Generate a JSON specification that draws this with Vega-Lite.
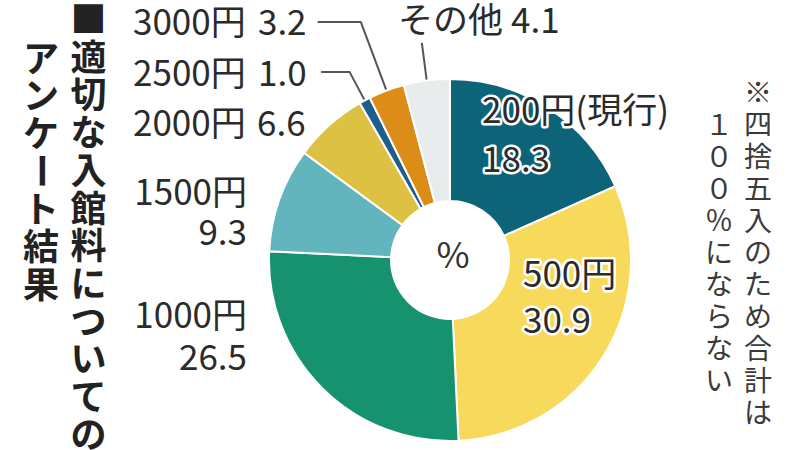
{
  "$schema": "https://vega.github.io/schema/vega-lite/v6.json",
  "width": 700,
  "height": 380,
  "autosize": {"type": "none"},
  "padding": {"left": 100, "top": 70, "right": 0, "bottom": 0},
  "background": "white",
  "config": {"view": {"stroke": null}, "text": {"font": "Noto Sans CJK JP", "fontSize": 35, "fill": "#2b2b2b"}},
  "data": {"values": [
    {"order": 1, "cat": "200円(現行)", "pct": 18.3},
    {"order": 2, "cat": "500円", "pct": 30.9},
    {"order": 3, "cat": "1000円", "pct": 26.5},
    {"order": 4, "cat": "1500円", "pct": 9.3},
    {"order": 5, "cat": "2000円", "pct": 6.6},
    {"order": 6, "cat": "2500円", "pct": 1.0},
    {"order": 7, "cat": "3000円", "pct": 3.2},
    {"order": 8, "cat": "その他", "pct": 4.1}
  ]},
  "layer": [
    {
      "encoding": {
        "theta": {"field": "pct", "type": "quantitative", "stack": true},
        "order": {"field": "order", "type": "quantitative"}
      },
      "layer": [
        {"mark": {"type": "arc", "innerRadius": 150, "outerRadius": 254, "padAngle": 3, "fill": "transparent", "stroke": "#555", "strokeWidth": 2},
         "encoding": {"strokeOpacity": {"condition": {"test": "datum.cat === '3000円'", "value": 1}, "value": 0}}},
        {"mark": {"type": "arc", "innerRadius": 150, "outerRadius": 213, "padAngle": 3, "fill": "transparent", "stroke": "#555", "strokeWidth": 2},
         "encoding": {"strokeOpacity": {"condition": {"test": "datum.cat === '2500円'", "value": 1}, "value": 0}}},
        {"mark": {"type": "arc", "innerRadius": 150, "outerRadius": 219, "padAngle": 3, "fill": "transparent", "stroke": "#555", "strokeWidth": 2},
         "encoding": {"strokeOpacity": {"condition": {"test": "datum.cat === 'その他'", "value": 1}, "value": 0}}},
        {"mark": {"type": "arc", "innerRadius": 59, "outerRadius": 181, "stroke": "white", "strokeWidth": 2},
         "encoding": {"color": {"field": "cat", "type": "nominal", "legend": null,
           "scale": {"domain": ["200円(現行)", "500円", "1000円", "1500円", "2000円", "2500円", "3000円", "その他"],
                     "range": ["#0d6478", "#f7da5c", "#17926f", "#62b4bd", "#dcc142", "#1e5d8c", "#dc8d17", "#e8ecec"]}}}},
        {"mark": {"type": "text", "radius": 246, "dx": -2.7, "dy": 0.7, "align": "right", "baseline": "alphabetic", "font": "DejaVu Sans Mono", "fontSize": 24, "fill": "#555"},
         "encoding": {"text": {"condition": {"test": "datum.cat === '3000円'", "value": "───"}, "value": ""}}},
        {"mark": {"type": "text", "radius": 206, "dx": -2.9, "dy": 2.0, "align": "right", "baseline": "alphabetic", "font": "DejaVu Sans Mono", "fontSize": 24, "fill": "#555"},
         "encoding": {"text": {"condition": {"test": "datum.cat === '2500円'", "value": "──"}, "value": ""}}},

        {"mark": {"type": "text", "radius": 132, "dx": -39.8, "dy": -26.3, "align": "left", "baseline": "alphabetic", "fill": "white", "stroke": "white", "strokeWidth": 5, "strokeJoin": "round"},
         "encoding": {"text": {"condition": {"test": "datum.cat === '200円(現行)'", "field": "cat", "type": "nominal"}, "value": ""}}},
        {"mark": {"type": "text", "radius": 91, "dx": -17.5, "dy": -11.7, "align": "left", "baseline": "alphabetic", "fill": "white", "stroke": "white", "strokeWidth": 5, "strokeJoin": "round"},
         "encoding": {"text": {"condition": {"test": "datum.cat === '200円(現行)'", "field": "pct", "type": "quantitative", "format": ".1f"}, "value": ""}}},
        {"mark": {"type": "text", "radius": 76, "dx": 8.3, "dy": -12.8, "align": "left", "baseline": "alphabetic", "fill": "white", "stroke": "white", "strokeWidth": 5, "strokeJoin": "round"},
         "encoding": {"text": {"condition": {"test": "datum.cat === '500円'", "field": "cat", "type": "nominal"}, "value": ""}}},
        {"mark": {"type": "text", "radius": 100, "dx": -12.2, "dy": 20.6, "align": "left", "baseline": "alphabetic", "fill": "white", "stroke": "white", "strokeWidth": 5, "strokeJoin": "round"},
         "encoding": {"text": {"condition": {"test": "datum.cat === '500円'", "field": "pct", "type": "quantitative", "format": ".1f"}, "value": ""}}},

        {"mark": {"type": "text", "radius": 132, "dx": -39.8, "dy": -26.3, "align": "left", "baseline": "alphabetic"},
         "encoding": {"text": {"condition": {"test": "datum.cat === '200円(現行)'", "field": "cat", "type": "nominal"}, "value": ""}}},
        {"mark": {"type": "text", "radius": 91, "dx": -17.5, "dy": -11.7, "align": "left", "baseline": "alphabetic"},
         "encoding": {"text": {"condition": {"test": "datum.cat === '200円(現行)'", "field": "pct", "type": "quantitative", "format": ".1f"}, "value": ""}}},
        {"mark": {"type": "text", "radius": 76, "dx": 8.3, "dy": -12.8, "align": "left", "baseline": "alphabetic"},
         "encoding": {"text": {"condition": {"test": "datum.cat === '500円'", "field": "cat", "type": "nominal"}, "value": ""}}},
        {"mark": {"type": "text", "radius": 100, "dx": -12.2, "dy": 20.6, "align": "left", "baseline": "alphabetic"},
         "encoding": {"text": {"condition": {"test": "datum.cat === '500円'", "field": "pct", "type": "quantitative", "format": ".1f"}, "value": ""}}},

        {"mark": {"type": "text", "radius": 192, "dx": -67.1, "dy": -67.6, "align": "right", "baseline": "alphabetic"},
         "encoding": {"text": {"condition": {"test": "datum.cat === '1000円'", "field": "cat", "type": "nominal"}, "value": ""}}},
        {"mark": {"type": "text", "radius": 221, "dx": -46.6, "dy": -46.1, "align": "right", "baseline": "alphabetic"},
         "encoding": {"text": {"condition": {"test": "datum.cat === '1000円'", "field": "pct", "type": "quantitative", "format": ".1f"}, "value": ""}}},
        {"mark": {"type": "text", "radius": 210, "dx": -5.1, "dy": 15.3, "align": "right", "baseline": "alphabetic"},
         "encoding": {"text": {"condition": {"test": "datum.cat === '1500円'", "field": "cat", "type": "nominal"}, "value": ""}}},
        {"mark": {"type": "text", "radius": 196, "dx": -18.3, "dy": 50.6, "align": "right", "baseline": "alphabetic"},
         "encoding": {"text": {"condition": {"test": "datum.cat === '1500円'", "field": "pct", "type": "quantitative", "format": ".1f"}, "value": ""}}},
        {"mark": {"type": "text", "radius": 304, "dx": -114.4, "dy": 102.6, "align": "left", "baseline": "alphabetic"},
         "encoding": {"text": {"condition": {"test": "datum.cat === '2000円'", "field": "cat", "type": "nominal"}, "value": ""}}},
        {"mark": {"type": "text", "radius": 221, "dx": -45.7, "dy": 40.8, "align": "left", "baseline": "alphabetic"},
         "encoding": {"text": {"condition": {"test": "datum.cat === '2000円'", "field": "pct", "type": "quantitative", "format": ".1f"}, "value": ""}}},
        {"mark": {"type": "text", "radius": 303, "dx": -174.2, "dy": 93.2, "align": "left", "baseline": "alphabetic"},
         "encoding": {"text": {"condition": {"test": "datum.cat === '2500円'", "field": "cat", "type": "nominal"}, "value": ""}}},
        {"mark": {"type": "text", "radius": 244, "dx": -77, "dy": 41.2, "align": "left", "baseline": "alphabetic"},
         "encoding": {"text": {"condition": {"test": "datum.cat === '2500円'", "field": "pct", "type": "quantitative", "format": ".1f"}, "value": ""}}},
        {"mark": {"type": "text", "radius": 322, "dx": -204, "dy": 76.5, "align": "left", "baseline": "alphabetic"},
         "encoding": {"text": {"condition": {"test": "datum.cat === '3000円'", "field": "cat", "type": "nominal"}, "value": ""}}},
        {"mark": {"type": "text", "radius": 278, "dx": -94.5, "dy": 35.3, "align": "left", "baseline": "alphabetic"},
         "encoding": {"text": {"condition": {"test": "datum.cat === '3000円'", "field": "pct", "type": "quantitative", "format": ".1f"}, "value": ""}}},
        {"mark": {"type": "text", "radius": 232, "dx": -22.1, "dy": 3.1, "align": "left", "baseline": "alphabetic"},
         "encoding": {"text": {"condition": {"test": "datum.cat === 'その他'", "field": "cat", "type": "nominal"}, "value": ""}}},
        {"mark": {"type": "text", "radius": 217, "dx": 88.9, "dy": -11.8, "align": "left", "baseline": "alphabetic"},
         "encoding": {"text": {"condition": {"test": "datum.cat === 'その他'", "field": "pct", "type": "quantitative", "format": ".1f"}, "value": ""}}}
      ]
    },
    {"data": {"values": [{}]},
     "mark": {"type": "text", "text": "%", "fontSize": 36, "align": "center", "baseline": "alphabetic", "dx": 3, "dy": 8, "fill": "#333"},
     "encoding": {}},
    {"data": {"values": [{}]},
     "mark": {"type": "text", "text": ["■", "適", "切", "な", "入", "館", "料", "に", "つ", "い", "て", "の"],
              "fontSize": 36, "fontWeight": "bold", "lineHeight": 37.7, "align": "center", "baseline": "top", "dx": -361.5, "dy": -255, "fill": "#222"},
     "encoding": {}},
    {"data": {"values": [{}]},
     "mark": {"type": "text", "text": ["ア", "ン", "ケ"],
              "fontSize": 36, "fontWeight": "bold", "lineHeight": 37.7, "align": "center", "baseline": "top", "dx": -409, "dy": -216.3, "fill": "#222"},
     "encoding": {}},
    {"data": {"values": [{}]},
     "mark": {"type": "text", "text": "ー", "angle": 90,
              "fontSize": 36, "fontWeight": "bold", "align": "center", "baseline": "middle", "dx": -89.3, "dy": 410.8, "fill": "#222"},
     "encoding": {}},
    {"data": {"values": [{}]},
     "mark": {"type": "text", "text": ["ト", "結", "果"],
              "fontSize": 36, "fontWeight": "bold", "lineHeight": 37.7, "align": "center", "baseline": "top", "dx": -409, "dy": -65.5, "fill": "#222"},
     "encoding": {}},
    {"data": {"values": [{}]},
     "mark": {"type": "text", "text": ["※", "四", "捨", "五", "入", "の", "た", "め", "合", "計", "は"],
              "fontSize": 28, "lineHeight": 32, "align": "center", "baseline": "top", "dx": 308, "dy": -179.5, "fill": "#3a3a3a"},
     "encoding": {}},
    {"data": {"values": [{}]},
     "mark": {"type": "text", "text": ["１", "０", "０", "％", "に", "な", "ら", "な", "い"],
              "fontSize": 28, "lineHeight": 32, "align": "center", "baseline": "top", "dx": 269, "dy": -147.5, "fill": "#3a3a3a"},
     "encoding": {}}
  ]
}
